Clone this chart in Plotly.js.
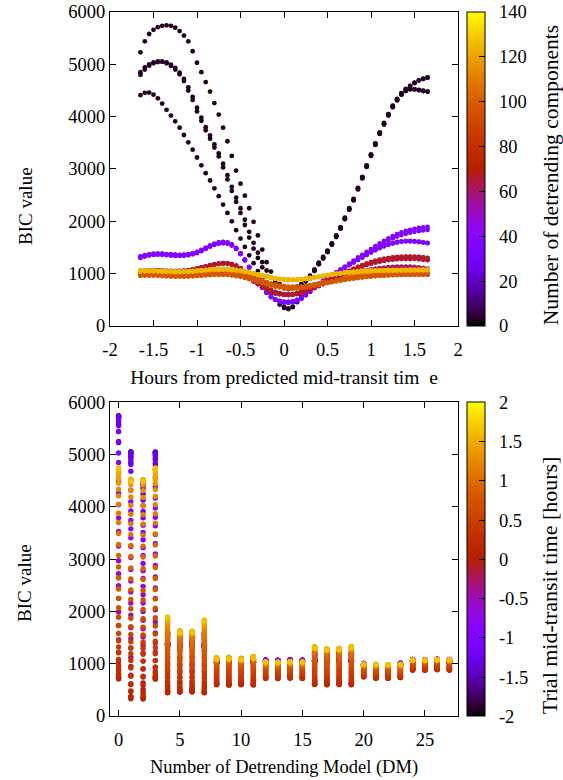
<!DOCTYPE html>
<html><head><meta charset="utf-8">
<script src="https://cdn.plot.ly/plotly-3.0.1.min.js"></script>
<style>body{margin:0;background:#fff}#chart{width:563px;height:780px}</style>
</head><body><div id="chart"></div>
<script>
// Trial mid-transit times (hours)
const trialTimes = [
-1.65,-1.6,-1.55,-1.5,-1.45,-1.4,-1.35,-1.3,-1.25,-1.2,-1.15,-1.1,-1.05,-1,-0.95,-0.9,-0.85,
-0.8,-0.75,-0.7,-0.65,-0.6,-0.55,-0.5,-0.45,-0.4,-0.35,-0.3,-0.25,-0.2,-0.15,-0.1,-0.05,0,
0.05,0.1,0.15,0.2,0.25,0.3,0.35,0.4,0.45,0.5,0.55,0.6,0.65,0.7,0.75,0.8,0.85,
0.9,0.95,1,1.05,1.1,1.15,1.2,1.25,1.3,1.35,1.4,1.45,1.5,1.55,1.6,1.65];

const dmNumbers = [0,1,2,3,4,5,6,7,8,9,10,11,12,13,14,15,16,17,18,19,20,21,22,23,24,25,26,27];
const detrendComponents = [3,3,3,3,35,35,35,35,62,62,62,62,110,110,110,110,66,66,66,66,98,98,98,98,125,125,125,125];

// BIC value per trial time, one array per detrending model
const bicDM0 = [5230,5440,5580,5660,5710,5735,5745,5735,5700,5635,5550,5440,5250,5030,4850,4660,4480,
4260,4040,3790,3530,3250,2970,2720,2490,2250,1990,1730,1460,1220,1040,900,800,740,
710,720,750,800,870,960,1080,1210,1320,1440,1580,1730,1890,2070,2250,2430,2640,
2850,3070,3280,3490,3700,3880,4050,4210,4340,4450,4530,4590,4650,4695,4725,4750];
const bicDM1 = [4850,4940,5000,5035,5055,5050,5020,4970,4900,4810,4680,4500,4320,4100,3920,3740,3580,
3410,3240,3030,2800,2580,2370,2160,1930,1690,1480,1300,1120,950,780,620,480,370,
330,370,470,600,760,920,1060,1190,1300,1420,1560,1710,1870,2050,2230,2410,2620,
2830,3050,3260,3470,3680,3860,4030,4190,4320,4430,4500,4530,4525,4510,4495,4480];
const bicDM2 = [4410,4455,4460,4420,4350,4250,4130,4020,3910,3790,3650,3510,3370,3220,3070,2920,2780,
2630,2480,2320,2160,2000,1830,1670,1510,1350,1200,1050,900,760,630,510,410,345,
325,360,455,585,745,905,1050,1180,1290,1410,1550,1700,1860,2040,2220,2400,2610,
2820,3040,3250,3460,3670,3850,4020,4180,4310,4420,4490,4520,4520,4505,4490,4480];
const bicDM3 = [4800,4900,4975,5020,5045,5050,5035,4995,4930,4840,4720,4560,4380,4170,3980,3800,3640,
3470,3300,3100,2880,2660,2450,2250,2030,1800,1590,1400,1220,1060,930,830,760,720,
705,715,745,790,850,940,1060,1190,1310,1430,1570,1720,1880,2060,2240,2420,2630,
2840,3060,3270,3480,3690,3870,4040,4200,4330,4440,4520,4585,4640,4690,4720,4745];
const bicDM4 = [1320,1345,1365,1375,1380,1378,1370,1362,1356,1355,1358,1368,1385,1410,1445,1490,1535,
1570,1595,1605,1595,1560,1490,1390,1270,1130,990,860,740,640,560,505,470,450,
445,455,480,525,590,660,730,800,860,915,970,1025,1080,1135,1190,1250,1310,
1360,1415,1470,1525,1578,1628,1675,1718,1755,1788,1815,1838,1857,1872,1884,1893];
const bicDM5 = [1310,1335,1355,1366,1370,1368,1361,1353,1347,1346,1350,1360,1378,1404,1438,1480,1522,
1556,1578,1586,1575,1540,1472,1375,1256,1120,982,852,735,636,558,503,472,460,
458,468,492,535,598,665,735,802,860,912,962,1012,1062,1112,1162,1212,1262,
1312,1362,1410,1455,1495,1530,1560,1585,1605,1618,1625,1625,1620,1610,1597,1582];
const bicDM6 = [1330,1352,1370,1380,1384,1382,1375,1367,1361,1360,1364,1374,1392,1418,1452,1494,1536,
1570,1592,1600,1588,1552,1482,1382,1262,1125,987,858,741,642,563,508,476,464,
462,472,497,541,604,671,741,808,866,918,968,1018,1068,1118,1166,1214,1262,
1309,1356,1402,1446,1486,1521,1551,1576,1595,1608,1615,1616,1612,1605,1596,1586];
const bicDM7 = [1300,1326,1346,1357,1362,1360,1353,1345,1339,1338,1342,1352,1370,1395,1430,1472,1515,
1550,1574,1584,1574,1540,1472,1374,1256,1118,980,850,732,633,553,500,466,448,
443,452,477,521,585,654,724,792,851,905,958,1012,1066,1120,1174,1229,1284,
1338,1391,1443,1494,1543,1590,1634,1673,1708,1738,1763,1784,1801,1815,1826,1835];
const bicDM8 = [1020,1026,1030,1031,1030,1027,1023,1020,1019,1020,1023,1028,1035,1043,1052,1061,1068,
1072,1078,1080,1076,1062,1038,1002,958,908,855,800,748,702,663,633,612,601,
600,605,618,640,668,700,735,770,805,838,870,900,928,955,980,1002,1022,
1040,1055,1068,1079,1088,1096,1102,1107,1110,1112,1112,1110,1105,1097,1087,1075];
const bicDM9 = [1025,1031,1035,1036,1035,1032,1028,1025,1024,1025,1028,1033,1040,1048,1057,1066,1073,
1077,1083,1085,1081,1067,1043,1007,962,911,857,801,748,700,660,628,606,594,
591,596,609,631,659,692,728,764,800,834,866,897,926,953,979,1002,1023,
1042,1058,1072,1084,1094,1102,1108,1113,1116,1118,1118,1116,1112,1105,1096,1085];
const bicDM10 = [1015,1021,1025,1026,1025,1022,1018,1015,1014,1015,1018,1023,1030,1038,1047,1056,1063,
1067,1073,1075,1071,1057,1034,999,956,907,855,801,750,704,665,635,614,603,
600,604,616,637,664,696,731,766,801,834,865,894,921,947,971,993,1012,
1029,1044,1057,1068,1077,1085,1091,1096,1099,1101,1101,1099,1095,1088,1079,1068];
const bicDM11 = [1028,1034,1038,1039,1038,1035,1031,1028,1027,1028,1031,1036,1043,1051,1060,1069,1076,
1080,1086,1088,1084,1070,1046,1010,965,914,860,804,751,704,664,633,611,599,
596,601,614,636,665,698,734,770,806,840,872,903,932,960,986,1010,1032,
1051,1068,1083,1096,1107,1116,1123,1128,1132,1134,1134,1132,1127,1119,1109,1097];
const bicDM12 = [1055,1058,1058,1055,1050,1045,1040,1036,1034,1034,1036,1040,1046,1052,1058,1064,1069,
1072,1073,1071,1065,1054,1038,1016,990,960,928,895,862,830,800,775,753,737,
727,722,724,732,746,765,787,810,833,855,876,895,912,927,940,951,961,
970,978,985,991,997,1002,1007,1012,1016,1020,1024,1027,1030,1033,1035,1037];
const bicDM13 = [1048,1051,1051,1048,1043,1038,1033,1029,1027,1027,1029,1033,1039,1045,1051,1057,1062,
1065,1066,1064,1058,1047,1031,1009,983,953,921,888,855,823,793,768,746,730,
720,715,717,725,739,758,780,803,826,848,869,888,905,920,933,944,954,
963,971,978,984,990,995,1000,1005,1009,1013,1017,1020,1023,1026,1028,1030];
const bicDM14 = [1058,1061,1061,1058,1053,1048,1043,1039,1037,1037,1039,1043,1049,1055,1061,1067,1072,
1075,1076,1074,1068,1057,1041,1019,993,963,931,898,865,833,803,778,756,740,
730,725,727,735,749,768,790,813,836,858,879,898,915,930,943,954,964,
973,981,988,994,1000,1005,1010,1015,1019,1023,1027,1030,1033,1036,1038,1040];
const bicDM15 = [1052,1055,1055,1052,1047,1042,1037,1033,1031,1031,1033,1037,1043,1049,1055,1061,1066,
1069,1070,1068,1062,1051,1035,1013,987,957,925,892,859,827,797,772,750,734,
724,719,721,729,743,762,784,807,830,852,873,892,909,924,937,948,958,
967,975,982,988,994,999,1004,1009,1013,1017,1021,1024,1027,1030,1032,1034];
const bicDM16 = [1040,1050,1057,1060,1060,1057,1052,1048,1046,1048,1054,1064,1078,1095,1115,1137,1158,
1177,1192,1200,1197,1180,1148,1102,1045,980,912,845,782,727,681,645,620,606,
602,608,624,648,678,712,748,785,822,860,898,937,976,1015,1054,1092,1128,
1162,1193,1220,1244,1265,1283,1297,1307,1315,1320,1323,1324,1322,1317,1309,1298];
const bicDM17 = [1035,1045,1052,1055,1055,1052,1047,1043,1041,1043,1049,1059,1073,1090,1110,1131,1151,
1169,1183,1190,1187,1170,1139,1094,1038,975,908,842,780,725,679,643,617,602,
597,602,617,640,669,702,737,773,809,846,883,921,959,997,1034,1070,1104,
1135,1163,1188,1210,1229,1245,1258,1267,1274,1278,1280,1280,1278,1273,1266,1257];
const bicDM18 = [1045,1054,1060,1063,1063,1060,1055,1051,1049,1051,1057,1067,1081,1098,1118,1140,1160,
1179,1193,1201,1198,1182,1151,1106,1050,986,919,852,789,733,686,649,623,608,
603,608,623,646,676,710,745,781,817,854,891,929,967,1005,1042,1078,1112,
1143,1171,1196,1218,1237,1253,1266,1275,1282,1287,1290,1290,1288,1283,1276,1267];
const bicDM19 = [1038,1048,1055,1058,1058,1055,1050,1046,1044,1046,1052,1062,1076,1093,1113,1135,1156,
1175,1190,1198,1195,1178,1146,1100,1043,978,910,843,780,724,678,642,617,603,
599,605,621,645,675,709,745,782,820,858,897,936,975,1014,1053,1091,1127,
1160,1191,1219,1244,1266,1284,1298,1309,1317,1322,1325,1326,1324,1319,1311,1300];
const bicDM20 = [985,988,989,988,985,980,975,971,968,967,968,971,975,981,987,993,999,
1003,1006,1006,1003,996,985,970,951,929,905,880,855,831,809,790,774,762,
754,751,752,757,766,778,793,809,826,843,859,874,888,901,913,924,934,
943,951,958,964,969,973,977,980,983,985,987,988,989,989,989,988];
const bicDM21 = [965,968,969,968,965,960,955,951,948,947,948,951,955,961,967,973,978,
982,984,984,980,972,960,944,924,901,876,850,824,800,778,758,742,731,
725,723,725,731,741,754,770,787,805,823,840,856,871,885,898,910,921,
931,940,948,955,961,966,970,974,977,979,981,982,983,983,983,982];
const bicDM22 = [960,963,964,963,960,955,950,946,943,942,943,946,950,956,962,968,973,
977,979,979,975,967,955,939,919,896,871,845,819,795,773,754,739,729,
724,722,724,730,740,753,769,786,804,822,839,855,870,884,897,909,920,
930,939,947,954,960,965,969,973,976,978,980,981,982,982,982,981];
const bicDM23 = [990,993,994,993,990,985,980,976,973,972,973,976,980,986,992,998,1004,
1008,1011,1011,1007,999,987,971,951,928,903,877,851,826,803,783,766,752,
742,737,737,741,749,760,774,790,807,824,841,857,872,886,899,911,922,
932,941,949,956,962,967,971,975,978,980,982,983,984,984,984,983];
const bicDM24 = [1050,1053,1054,1053,1050,1046,1042,1039,1037,1037,1039,1043,1048,1054,1061,1068,1074,
1079,1082,1083,1081,1075,1066,1054,1039,1022,1003,983,963,943,925,908,895,886,
881,880,883,890,900,912,926,940,954,968,981,993,1004,1014,1023,1031,1038,
1044,1049,1053,1056,1059,1061,1063,1064,1065,1066,1067,1068,1068,1069,1069,1070];
const bicDM25 = [1045,1048,1049,1048,1045,1041,1037,1034,1032,1032,1034,1038,1043,1049,1056,1063,1069,
1074,1077,1078,1076,1070,1061,1049,1034,1017,998,978,958,939,921,905,892,883,
878,877,880,887,897,909,923,937,951,965,978,990,1001,1011,1020,1028,1035,
1041,1046,1050,1053,1056,1058,1060,1061,1062,1063,1064,1065,1065,1066,1066,1067];
const bicDM26 = [1055,1058,1059,1058,1055,1051,1047,1044,1042,1042,1044,1048,1053,1059,1066,1073,1079,
1084,1087,1088,1086,1080,1071,1059,1044,1027,1008,988,968,949,931,915,902,893,
888,887,890,897,907,919,933,947,961,975,988,1000,1011,1021,1030,1038,1045,
1051,1056,1060,1063,1066,1068,1070,1071,1072,1073,1074,1075,1075,1076,1076,1077];
const bicDM27 = [1048,1051,1052,1051,1048,1044,1040,1037,1035,1035,1037,1041,1046,1052,1059,1066,1072,
1077,1080,1081,1079,1073,1064,1052,1037,1020,1001,981,961,942,924,908,895,886,
881,880,883,890,900,912,926,940,954,968,981,993,1004,1014,1023,1031,1038,
1044,1049,1053,1056,1059,1061,1063,1064,1065,1066,1067,1068,1069,1070,1071,1072];

// Tick labels
const hourTickVals = [-2,-1.5,-1,-0.5,0,0.5,1,1.5,2];
const hourTickText = ['-2','-1.5','-1','-0.5','0','0.5','1','1.5','2'];
const bicTickVals = [0,1000,2000,3000,4000,5000,6000];
const bicTickText = ['0','1000','2000','3000','4000','5000','6000'];
const dmTickVals = [0,5,10,15,20,25];
const dmTickText = ['0','5','10','15','20','25'];
const compTickVals = [0,20,40,60,80,100,120,140];
const compTickText = ['0','20','40','60','80','100','120','140'];

const allSeries = [bicDM0,bicDM1,bicDM2,bicDM3,bicDM4,bicDM5,bicDM6,bicDM7,bicDM8,bicDM9,
  bicDM10,bicDM11,bicDM12,bicDM13,bicDM14,bicDM15,bicDM16,bicDM17,bicDM18,bicDM19,
  bicDM20,bicDM21,bicDM22,bicDM23,bicDM24,bicDM25,bicDM26,bicDM27];

const tX=[], bicY=[], compC=[], dmX=[];
allSeries.forEach((arr,k)=>arr.forEach((v,i)=>{
  tX.push(trialTimes[i]); bicY.push(v); compC.push(detrendComponents[k]); dmX.push(dmNumbers[k]);
}));

// gnuplot default pm3d palette (rgbformulae 7,5,15)
const palette = [];
for (let i=0;i<=40;i++){
  const x=i/40;
  const r=Math.round(255*Math.sqrt(x)), g=Math.round(255*x*x*x), b=Math.round(255*Math.max(0,Math.sin(2*Math.PI*x)));
  palette.push([x,`rgb(${r},${g},${b})`]);
}

const F = 'Liberation Serif, Times New Roman, serif';
const font = {family:F, size:18.5, color:'black'};
const pad = s => '\u00a0\u00a0' + s;

function cbar(yTop, vals, text){
  return {x:1.0267, xanchor:'left', y:yTop, yanchor:'top', len:314, lenmode:'pixels',
    thickness:18, thicknessmode:'pixels', xpad:0, ypad:0, outlinewidth:1, outlinecolor:'black',
    ticks:'inside', ticklen:6, tickcolor:'black', tickmode:'array', tickvals:vals, ticktext:text.map(pad),
    tickfont:font};
}

const traces = [
 {type:'scatter', mode:'markers', x:tX, y:bicY, xaxis:'x', yaxis:'y', hoverinfo:'skip',
  marker:{size:4.8, color:compC, cmin:0, cmax:140, colorscale:palette, line:{width:0},
    colorbar:cbar(1, compTickVals, compTickText)}},
 {type:'scatter', mode:'markers', x:dmX, y:bicY, xaxis:'x2', yaxis:'y2', hoverinfo:'skip',
  marker:{size:5.4, color:tX, cmin:-2, cmax:2, colorscale:palette, line:{width:0},
    colorbar:cbar(0.4456, hourTickVals, hourTickText)}}
];

const ax = {showline:true, linecolor:'black', linewidth:1, mirror:'allticks', ticks:'inside', ticklen:6,
  tickcolor:'black', showgrid:false, zeroline:false, tickmode:'array', tickfont:font};

const rot = (text, x, y, size) => ({text:text, xref:'paper', yref:'paper', x:x, y:y,
  xanchor:'center', yanchor:'middle', textangle:-90, showarrow:false, font:{family:F, size:size, color:'black'}});

const layout = {
  width:563, height:780, margin:{l:110, r:105, t:12, b:64},
  paper_bgcolor:'white', plot_bgcolor:'white', showlegend:false, font:font,
  xaxis:Object.assign({}, ax, {domain:[0,1], anchor:'y', range:[-2,2], tickvals:hourTickVals, ticktext:hourTickText,
    ticklabelstandoff:7, title:{text:'Hours from predicted mid-transit tim\u00a0 e', font:{family:F, size:19.5, color:'black'}, standoff:11}}),
  yaxis:Object.assign({}, ax, {domain:[0.554,1], anchor:'x', range:[0,6000], tickvals:bicTickVals, ticktext:bicTickText}),
  xaxis2:Object.assign({}, ax, {domain:[0,1], anchor:'y2', range:[-0.7,27.7], tickvals:dmTickVals, ticktext:dmTickText,
    ticklabelstandoff:7, title:{text:'Number of Detrending Model (DM)', font:font, standoff:10}}),
  yaxis2:Object.assign({}, ax, {domain:[0,0.4456], anchor:'x2', range:[0,6000], tickvals:bicTickVals, ticktext:bicTickText}),
  annotations:[
    rot('BIC value', -0.2443, 0.7244, 19),
    rot('BIC value', -0.2443, 0.189, 19),
    rot('Number of detrending components', 1.268, 0.7685, 21.5),
    rot('Trial mid-transit time [hours]', 1.262, 0.186, 22)
  ]
};

Plotly.newPlot('chart', traces, layout, {displayModeBar:false, staticPlot:true});
</script>
</body></html>
